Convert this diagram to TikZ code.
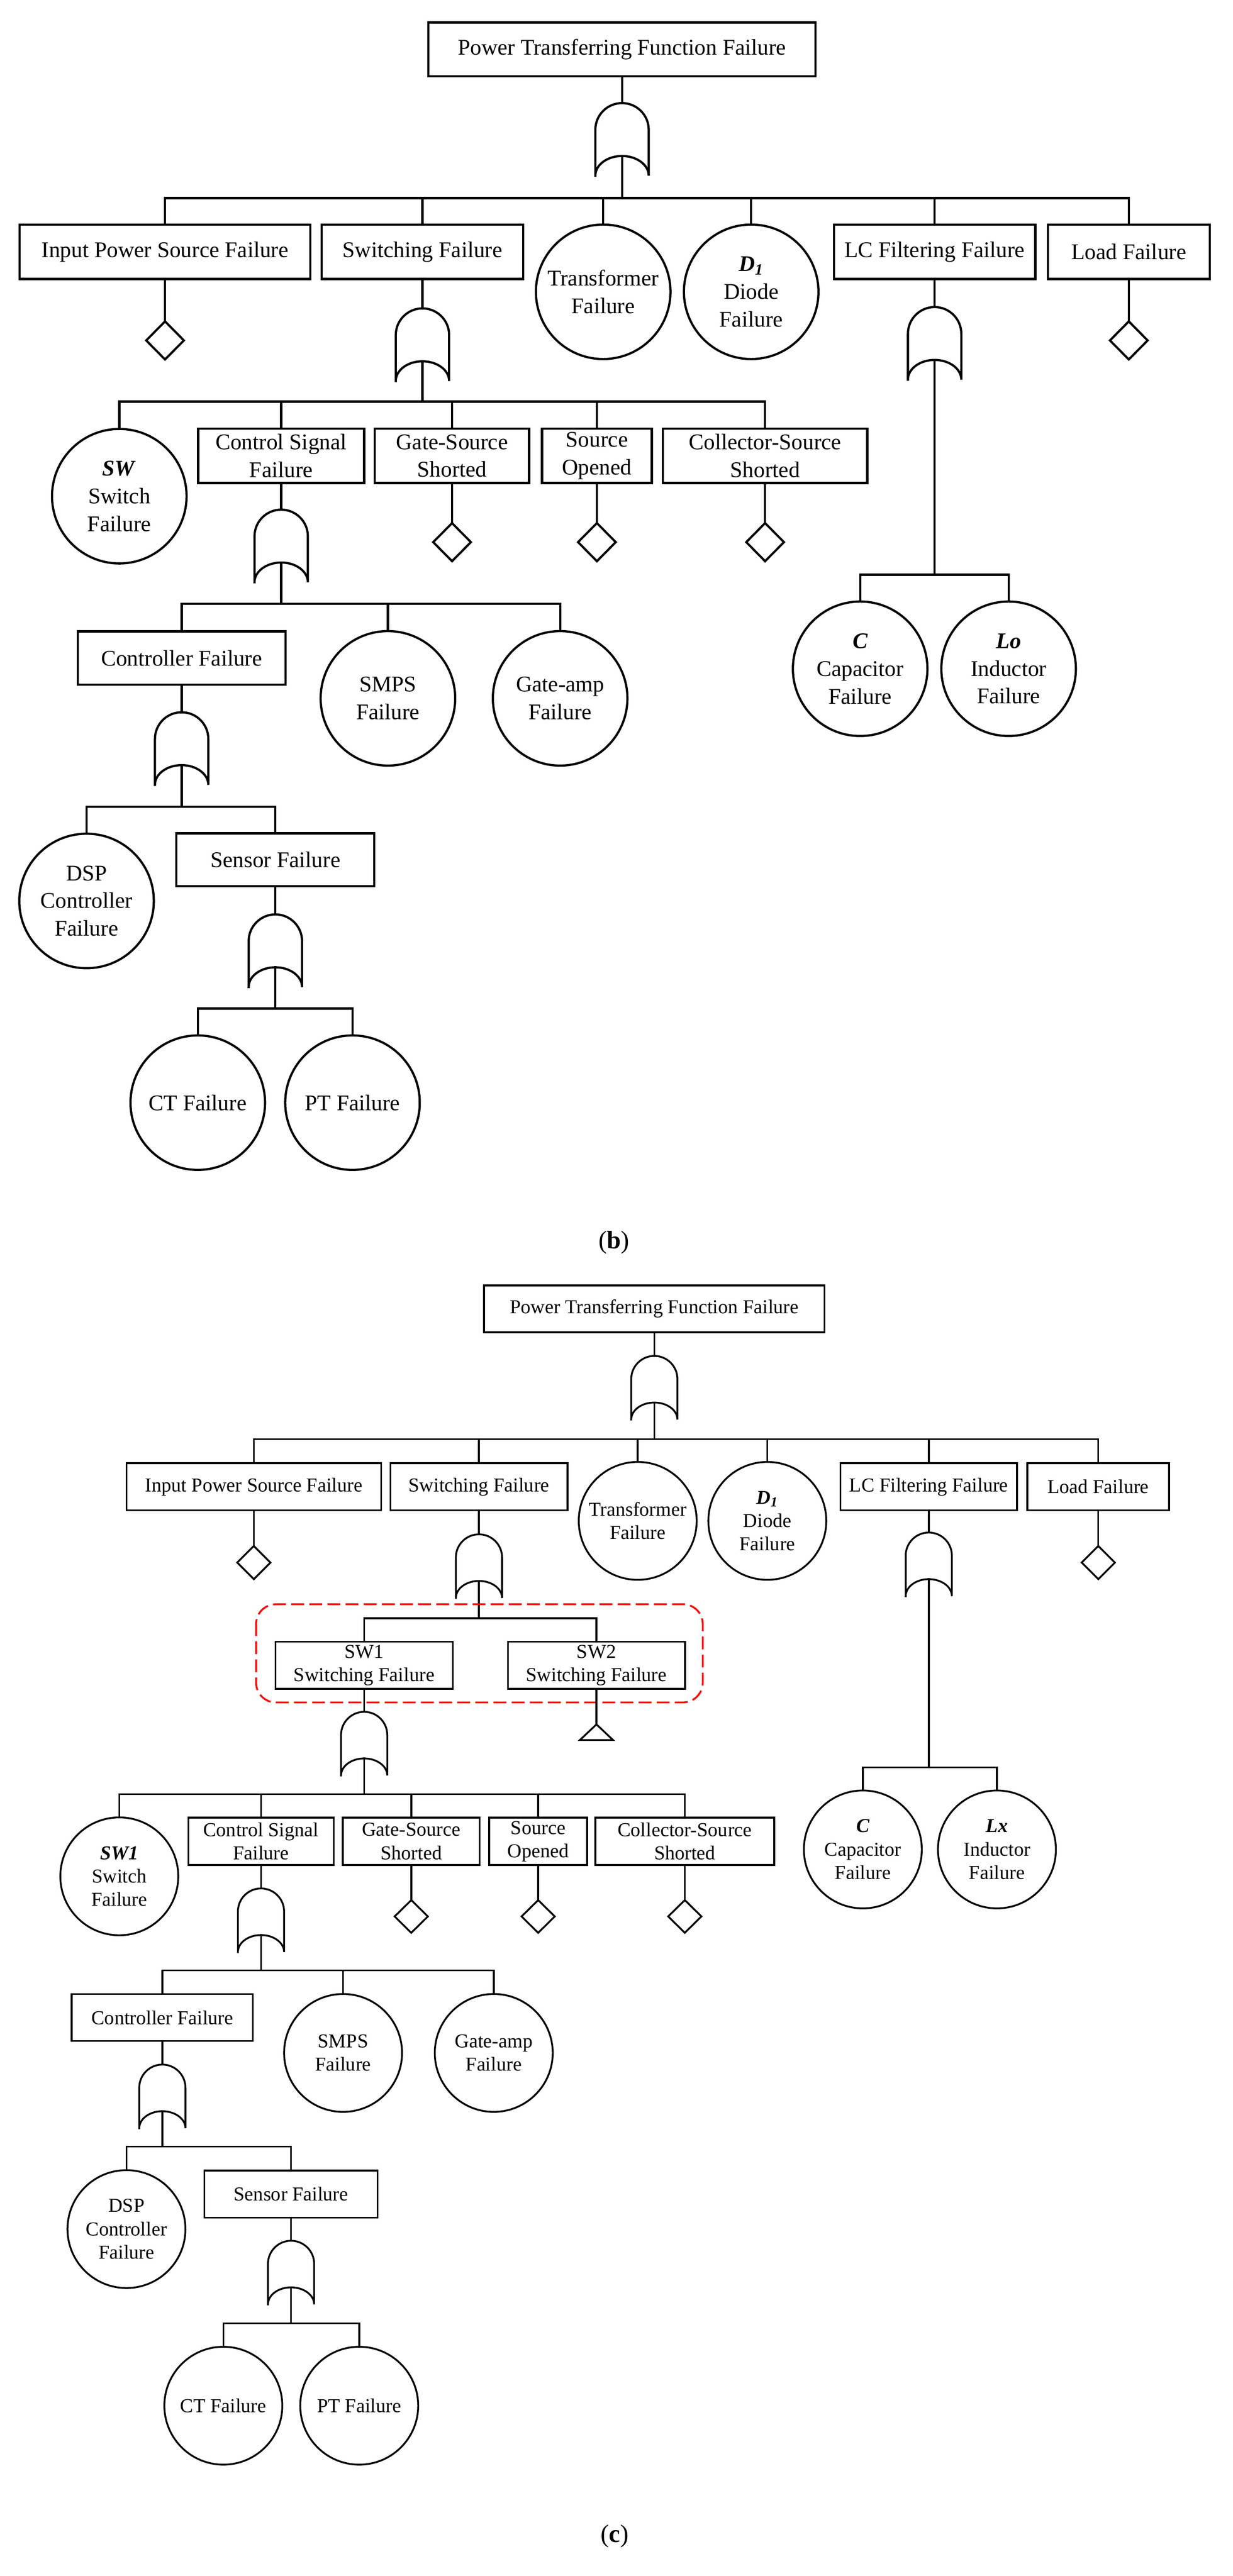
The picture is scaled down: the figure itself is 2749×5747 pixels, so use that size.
\documentclass[tikz,border=0pt]{standalone}
\usepackage{fontspec}
\setmainfont{Liberation Serif}
\begin{document}
\newcommand\gate[6]{%
  \coordinate (#1t) at (#2,#3);
  \coordinate (#1b) at (#2,#3+#5-#6);
  \draw (#2-#4,#3+#5) -- (#2-#4,#3+#4) arc[start angle=180,end angle=360,x radius=#4,y radius=#4] -- (#2+#4,#3+#5) arc[start angle=0,end angle=-180,x radius=#4,y radius=#6];}
\newcommand\dmd[5]{\coordinate (#1) at (#2,#3);
  \draw (#2,#3) -- (#2+#4,#3+#5/2) -- (#2,#3+#5) -- (#2-#4,#3+#5/2) -- cycle;}
\newcommand\tri[5]{\coordinate (#1) at (#2,#3);
  \draw (#2,#3) -- (#2+#4,#3+#5) -- (#2-#4,#3+#5) -- cycle;}
\newcommand\bx[6]{\node[box,minimum width=#4*0.01cm,minimum height=#5*0.01cm] (#1) at (#2,#3) {#6};}
\newcommand\cir[5]{\node[circ,minimum size=#4*0.01cm] (#1) at (#2,#3) {#5};}
\newcommand\drop[2]{\draw (#1.north) -- (#1.north |- 0,#2);}
\newcommand\bi[1]{\textbf{\textit{#1}}}
\begin{tikzpicture}[x=0.01cm,y=-0.01cm,line cap=rect,
  box/.style={draw,inner sep=0pt,align=center},
  circ/.style={draw,circle,inner sep=0pt,align=center}]
\useasboundingbox (0,0) rectangle (2749,5747);
% ================= (b)
\begin{scope}[line width=1.4pt,font=\fontsize{14.2}{17.6}\selectfont]
\bx{top}{1387}{110}{863}{120}{Power Transferring Function Failure}
\gate{G1}{1387}{230}{59.5}{162}{44}
\draw (top.south) -- (G1t);
\draw (G1b) -- (G1b |- 0,442);
\bx{in}{368}{562}{648}{121}{Input Power Source Failure}
\bx{sw}{942}{562}{449}{121}{Switching Failure}
\cir{tr}{1345}{651}{300}{Transformer\\Failure}
\cir{d}{1675}{651}{300}{\bi{D\textsubscript{1}}\\Diode\\Failure}
\bx{lc}{2084}{562}{449}{121}{LC Filtering Failure}
\bx{ld}{2517}{562}{361}{121}{Load Failure}
\foreach \n in {in,sw,tr,d,lc,ld} {\drop{\n}{442}}
\draw (in.north |- 0,442) -- (ld.north |- 0,442);
\dmd{din}{368}{717}{42}{85} \draw (in.south) -- (din);
\dmd{dld}{2517}{717}{42}{85} \draw (ld.south) -- (dld);
\gate{G2}{942}{688}{59.5}{162}{44} \draw (sw.south) -- (G2t);
\gate{G3}{2084}{685}{59.5}{162}{44} \draw (lc.south) -- (G3t);
\draw (G2b) -- (G2b |- 0,896);
\cir{swc}{266}{1107}{300}{\bi{SW}\\Switch\\Failure}
\bx{cs}{627}{1017}{370}{121}{Control Signal\\Failure}
\bx{gs}{1008}{1017}{344}{121}{Gate-Source\\Shorted}
\bx{so}{1331}{1017}{245}{121}{Source\\Opened}
\bx{co}{1706}{1017}{456}{121}{Collector-Source\\Shorted}
\foreach \n in {swc,cs,gs,so,co} {\drop{\n}{896}}
\draw (swc.north |- 0,896) -- (co.north |- 0,896);
\dmd{dgs}{1008}{1167}{42}{85} \draw (gs.south) -- (dgs);
\dmd{dso}{1331}{1167}{42}{85} \draw (so.south) -- (dso);
\dmd{dco}{1706}{1167}{42}{85} \draw (co.south) -- (dco);
\gate{G4}{627}{1137}{59.5}{162}{44} \draw (cs.south) -- (G4t);
\draw (G4b) -- (G4b |- 0,1347);
\bx{ct}{405}{1468}{463}{119}{Controller Failure}
\cir{sm}{865}{1558}{300}{SMPS\\Failure}
\cir{ga}{1249}{1558}{300}{Gate-amp\\Failure}
\foreach \n in {ct,sm,ga} {\drop{\n}{1347}}
\draw (ct.north |- 0,1347) -- (ga.north |- 0,1347);
\gate{G5}{405}{1589}{59.5}{162}{44} \draw (ct.south) -- (G5t);
\draw (G5b) -- (G5b |- 0,1800);
\cir{dsp}{193}{2010}{300}{DSP\\Controller\\Failure}
\bx{se}{614}{1918}{441}{118}{Sensor Failure}
\foreach \n in {dsp,se} {\drop{\n}{1800}}
\draw (dsp.north |- 0,1800) -- (se.north |- 0,1800);
\gate{G6}{614}{2040}{59.5}{162}{44} \draw (se.south) -- (G6t);
\draw (G6b) -- (G6b |- 0,2250);
\cir{cti}{441}{2460}{300}{CT Failure}
\cir{pti}{786}{2460}{300}{PT Failure}
\foreach \n in {cti,pti} {\drop{\n}{2250}}
\draw (cti.north |- 0,2250) -- (pti.north |- 0,2250);
\draw (G3b) -- (G3b |- 0,1282);
\cir{cc}{1918}{1492}{300}{\bi{C}\\Capacitor\\Failure}
\cir{lo}{2249}{1492}{300}{\bi{Lo}\\Inductor\\Failure}
\foreach \n in {cc,lo} {\drop{\n}{1282}}
\draw (cc.north |- 0,1282) -- (lo.north |- 0,1282);
\end{scope}
\node[font=\fontsize{16}{19}\selectfont] (lb) at (1369,2772) {(\textbf{b})};
% ================= (c)
\begin{scope}[line width=1.15pt,font=\fontsize{12.5}{14.8}\selectfont]
\bx{Ctop}{1459}{2920}{759}{105}{Power Transferring Function Failure}
\gate{H1}{1459}{3025}{51.5}{142}{38}
\draw (Ctop.south) -- (H1t);
\draw (H1b) -- (H1b |- 0,3211);
\bx{Cin}{566}{3317}{568}{105}{Input Power Source Failure}
\bx{Csw}{1068}{3317}{395}{105}{Switching Failure}
\cir{Ctr}{1422}{3393}{263}{Transformer\\Failure}
\cir{Cd}{1711}{3393}{263}{\bi{D\textsubscript{1}}\\Diode\\Failure}
\bx{Clc}{2071}{3317}{394}{105}{LC Filtering Failure}
\bx{Cld}{2449}{3317}{316}{105}{Load Failure}
\foreach \n in {Cin,Csw,Ctr,Cd,Clc,Cld} {\drop{\n}{3211}}
\draw (Cin.north |- 0,3211) -- (Cld.north |- 0,3211);
\dmd{Cdin}{566}{3449}{37}{74} \draw (Cin.south) -- (Cdin);
\dmd{Cdld}{2449}{3449}{37}{74} \draw (Cld.south) -- (Cdld);
\gate{H2}{1068}{3423}{51.5}{142}{38} \draw (Csw.south) -- (H2t);
\gate{H3}{2071}{3419}{51.5}{142}{38} \draw (Clc.south) -- (H3t);
\draw (H2b) -- (H2b |- 0,3610);
\bx{s1}{812}{3715}{395}{105}{SW1\\Switching Failure}
\bx{s2}{1330}{3715}{395}{105}{SW2\\Switching Failure}
\foreach \n in {s1,s2} {\drop{\n}{3610}}
\draw (s1.north |- 0,3610) -- (s2.north |- 0,3610);
\draw[red,dash pattern=on 7pt off 4.5pt,rounded corners=0.44cm] (571,3579) rectangle (1567,3798);
\tri{ts2}{1330}{3847}{37}{35} \draw (s2.south) -- (ts2);
\gate{H4}{812}{3819}{51.5}{142}{38} \draw (s1.south) -- (H4t);
\draw (H4b) -- (H4b |- 0,4003);
\cir{Cswc}{266}{4186}{263}{\bi{SW1}\\Switch\\Failure}
\bx{Ccs}{582}{4108}{324}{106}{Control Signal\\Failure}
\bx{Cgs}{917}{4108}{305}{106}{Gate-Source\\Shorted}
\bx{Cso}{1200}{4108}{218}{106}{Source\\Opened}
\bx{Cco}{1527}{4108}{399}{106}{Collector-Source\\Shorted}
\foreach \n in {Cswc,Ccs,Cgs,Cso,Cco} {\drop{\n}{4003}}
\draw (Cswc.north |- 0,4003) -- (Cco.north |- 0,4003);
\dmd{Cdgs}{917}{4239}{37}{73} \draw (Cgs.south) -- (Cdgs);
\dmd{Cdso}{1200}{4239}{37}{73} \draw (Cso.south) -- (Cdso);
\dmd{Cdco}{1527}{4239}{37}{73} \draw (Cco.south) -- (Cdco);
\gate{H5}{582}{4213}{51.5}{142}{38} \draw (Ccs.south) -- (H5t);
\draw (H5b) -- (H5b |- 0,4396);
\bx{Cct}{362}{4501}{404}{105}{Controller Failure}
\cir{Csm}{765}{4580}{263}{SMPS\\Failure}
\cir{Cga}{1101}{4580}{263}{Gate-amp\\Failure}
\foreach \n in {Cct,Csm,Cga} {\drop{\n}{4396}}
\draw (Cct.north |- 0,4396) -- (Cga.north |- 0,4396);
\gate{H6}{362}{4606}{51.5}{142}{38} \draw (Cct.south) -- (H6t);
\draw (H6b) -- (H6b |- 0,4789);
\cir{Cdsp}{282}{4973}{263}{DSP\\Controller\\Failure}
\bx{Cse}{649}{4895}{386}{105}{Sensor Failure}
\foreach \n in {Cdsp,Cse} {\drop{\n}{4789}}
\draw (Cdsp.north |- 0,4789) -- (Cse.north |- 0,4789);
\gate{H7}{649}{4999}{51.5}{142}{38} \draw (Cse.south) -- (H7t);
\draw (H7b) -- (H7b |- 0,5183);
\cir{Ccti}{498}{5367}{263}{CT Failure}
\cir{Cpti}{801}{5367}{263}{PT Failure}
\foreach \n in {Ccti,Cpti} {\drop{\n}{5183}}
\draw (Ccti.north |- 0,5183) -- (Cpti.north |- 0,5183);
\draw (H3b) -- (H3b |- 0,3943);
\cir{Ccc}{1924}{4126}{263}{\bi{C}\\Capacitor\\Failure}
\cir{Clx}{2223}{4126}{263}{\bi{Lx}\\Inductor\\Failure}
\foreach \n in {Ccc,Clx} {\drop{\n}{3943}}
\draw (Ccc.north |- 0,3943) -- (Clx.north |- 0,3943);
\end{scope}
\node[font=\fontsize{16}{19}\selectfont] (lc2) at (1371,5658) {(\textbf{c})};
\end{tikzpicture}
\end{document}
